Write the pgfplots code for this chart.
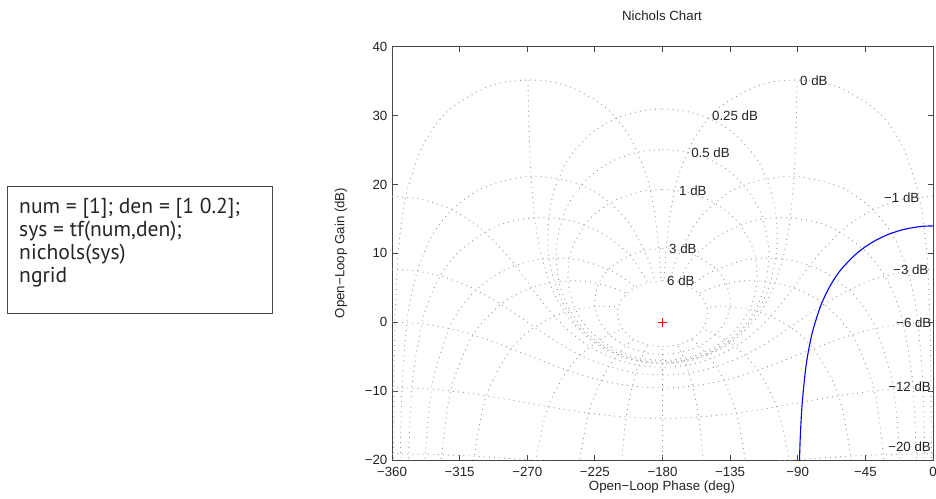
\documentclass[border=0pt]{standalone}
\usepackage{fontspec}
\setmainfont{Liberation Sans}
\newfontfamily\codefont{PT Sans}
\usepackage{pgfplots}
\pgfplotsset{compat=1.18}
\definecolor{gridgray}{RGB}{150,150,150}
\definecolor{axgray}{RGB}{70,70,70}
\definecolor{txt}{RGB}{35,35,35}
\pgfplotsset{ng/.style={no marks, smooth, line width=0.9pt, color=gridgray, dash pattern=on 0.9pt off 4.2pt}}
\begin{document}
\fontsize{13.3}{16}\selectfont
\begin{tikzpicture}[x=1pt,y=1pt]
\useasboundingbox (0,0) rectangle (936,498);
% code box
\draw[line width=1pt, draw=axgray] (7,311) rectangle (272,184);
\begin{scope}[every node/.style={anchor=base west, inner sep=0, text=black!85, font=\codefont\fontsize{21.6}{25}\selectfont}]
\node at (19,284) {num = [1]; den = [1 0.2];};
\node at (19,261) {sys = tf(num,den);};
\node at (19,238) {nichols(sys)};
\node at (19,215) {ngrid};
\end{scope}
\begin{axis}[
  at={(392pt,38pt)}, anchor=south west,
  scale only axis, width=541pt, height=413.3pt,
  xmin=-360, xmax=0, ymin=-20, ymax=40,
  xtick={-360,-315,-270,-225,-180,-135,-90,-45,0},
  xticklabels={−360,−315,−270,−225,−180,−135,−90,−45,0},
  ytick={-20,-10,0,10,20,30,40},
  yticklabels={−20,−10,0,10,20,30,40},
  tick align=inside, tick pos=both, major tick length=5.5pt,
  axis line style={draw=axgray, line width=0.9pt},
  tick style={draw=axgray, line width=0.8pt},
  ticklabel style={font=\fontsize{13.3}{16}\selectfont, text=txt},
  xticklabel style={yshift=-3pt},
  clip=true,
]
% ---- closed-loop gain contours (M) ----
% -20 dB
\addplot[ng] coordinates {(-360,-19.09) (-326.9,-19.23) (-294.8,-19.59) (-264.3,-20.04) (-235.3,-20.45) (-207.4,-20.73) (-180,-20.83) (-152.6,-20.73) (-124.7,-20.45) (-95.7,-20.04) (-65.2,-19.59) (-33.1,-19.23) (0,-19.09)};
% -12 dB
\addplot[ng] coordinates {(-360,-9.49) (-333.6,-9.72) (-308.7,-10.31) (-286.0,-11.09) (-265.5,-11.89) (-246.7,-12.61) (-229.1,-13.19) (-212.3,-13.61) (-196.0,-13.86) (-180,-13.95) (-164.0,-13.86) (-147.7,-13.61) (-130.9,-13.19) (-113.3,-12.61) (-94.5,-11.89) (-74.0,-11.09) (-51.3,-10.31) (-26.4,-9.72) (0,-9.49)};
% -6 dB
\addplot[ng] coordinates {(-360,0.04) (-340.25,-0.22) (-322.05,-0.90) (-306.1,-1.83) (-286.2,-3.34) (-269.9,-4.75) (-255.9,-5.96) (-243.4,-6.97) (-231.8,-7.79) (-220.9,-8.44) (-210.3,-8.92) (-200.1,-9.26) (-190.0,-9.46) (-180,-9.53) (-170.0,-9.46) (-159.9,-9.26) (-149.7,-8.92) (-139.1,-8.44) (-128.2,-7.79) (-116.6,-6.97) (-104.1,-5.96) (-90.1,-4.75) (-73.8,-3.34) (-53.9,-1.83) (-37.95,-0.90) (-19.75,-0.22) (0,0.04)};
% -3 dB
\addplot[ng] coordinates {(-360,7.69) (-343.2,7.42) (-327.9,6.71) (-314.9,5.74) (-304.1,4.68) (-287.5,2.61) (-269.9,0.01) (-256.5,-1.99) (-245.1,-3.55) (-234.7,-4.76) (-225.0,-5.71) (-215.6,-6.44) (-206.6,-6.98) (-197.6,-7.36) (-188.8,-7.58) (-180,-7.65) (-171.2,-7.58) (-162.4,-7.36) (-153.4,-6.98) (-144.4,-6.44) (-135.0,-5.71) (-125.3,-4.76) (-114.9,-3.55) (-103.5,-1.99) (-90.1,0.01) (-72.5,2.61) (-55.9,4.68) (-45.1,5.74) (-32.1,6.71) (-16.8,7.42) (0,7.69)};
% -1 dB
\addplot[ng] coordinates {(-360,18.28) (-342.1,17.90) (-326.7,16.92) (-314.6,15.66) (-305.4,14.36) (-298.3,13.10) (-286.1,10.39) (-278.0,8.23) (-267.1,5.01) (-255.4,1.73) (-245.7,-0.56) (-236.8,-2.25) (-228.3,-3.54) (-220.0,-4.53) (-211.9,-5.29) (-203.9,-5.85) (-195.9,-6.24) (-187.9,-6.46) (-180,-6.54) (-172.1,-6.46) (-164.1,-6.24) (-156.1,-5.85) (-148.1,-5.29) (-140.0,-4.53) (-131.7,-3.54) (-123.2,-2.25) (-114.3,-0.56) (-104.6,1.73) (-92.9,5.01) (-82.0,8.23) (-73.9,10.39) (-61.7,13.10) (-54.6,14.36) (-45.4,15.66) (-33.3,16.92) (-17.9,17.90) (0,18.28)};
% 0 dB
\addplot[ng] coordinates {(-269.5,35.16) (-269,29.14) (-268,23.12) (-267,19.60) (-265,15.17) (-263,12.26) (-260,9.19) (-255,5.72) (-250,3.30) (-245,1.46) (-240,0) (-230,-2.18) (-220,-3.71) (-210,-4.77) (-200,-5.48) (-190,-5.89) (-180,-6.02) (-170,-5.89) (-160,-5.48) (-150,-4.77) (-140,-3.71) (-130,-2.18) (-120,0) (-115,1.46) (-110,3.30) (-105,5.72) (-100,9.19) (-97,12.26) (-95,15.17) (-93,19.60) (-92,23.12) (-91,29.14) (-90.5,35.16)};
% 0.25 dB
\addplot[ng] coordinates {(-180,30.96) (-171.5,30.84) (-163.4,30.57) (-149.3,29.59) (-138.5,28.32) (-130.5,27.02) (-120.3,24.60) (-114.4,22.57) (-108.4,19.41) (-105.6,17.05) (-104.3,15.18) (-103.7,11.74) (-104.7,9.28) (-108.1,5.83) (-114.5,2.44) (-121.4,0.12) (-128.6,-1.59) (-135.8,-2.89) (-143.1,-3.89) (-150.5,-4.65) (-157.8,-5.21) (-165.2,-5.60) (-172.6,-5.82) (-180,-5.90) (-187.4,-5.82) (-194.8,-5.60) (-202.2,-5.21) (-209.5,-4.65) (-216.9,-3.89) (-224.2,-2.89) (-231.4,-1.59) (-238.6,0.12) (-245.5,2.44) (-251.9,5.83) (-255.3,9.28) (-256.3,11.74) (-255.7,15.18) (-254.4,17.05) (-251.6,19.41) (-245.6,22.57) (-239.7,24.60) (-229.5,27.02) (-221.5,28.32) (-210.7,29.59) (-196.6,30.57) (-188.5,30.84)} -- cycle;
% 0.5 dB
\addplot[ng] coordinates {(-180,25.05) (-171.6,24.95) (-163.6,24.68) (-149.8,23.70) (-139.2,22.44) (-131.5,21.12) (-121.8,18.71) (-116.4,16.68) (-113.2,14.98) (-109.8,11.71) (-109.3,9.32) (-111.1,5.92) (-116.5,2.55) (-122.9,0.24) (-129.6,-1.47) (-136.6,-2.77) (-143.8,-3.77) (-151.0,-4.53) (-158.2,-5.09) (-165.4,-5.47) (-172.7,-5.70) (-180,-5.77) (-187.3,-5.70) (-194.6,-5.47) (-201.8,-5.09) (-209.0,-4.53) (-216.2,-3.77) (-223.4,-2.77) (-230.4,-1.47) (-237.1,0.24) (-243.5,2.55) (-248.9,5.92) (-250.7,9.32) (-250.2,11.71) (-246.8,14.98) (-243.6,16.68) (-238.2,18.71) (-228.5,21.12) (-220.8,22.44) (-210.2,23.70) (-196.4,24.68) (-188.4,24.95)} -- cycle;
% 1 dB
\addplot[ng] coordinates {(-180,19.27) (-171.9,19.17) (-164.1,18.89) (-150.7,17.91) (-140.65,16.65) (-133.4,15.35) (-128.3,14.10) (-121.1,11.39) (-118.1,9.23) (-117.1,6.01) (-120.4,2.73) (-125.7,0.44) (-131.8,-1.25) (-138.3,-2.54) (-145.0,-3.53) (-151.9,-4.29) (-158.9,-4.85) (-165.9,-5.24) (-172.9,-5.46) (-180,-5.54) (-187.1,-5.46) (-194.1,-5.24) (-201.1,-4.85) (-208.1,-4.29) (-215.0,-3.53) (-221.7,-2.54) (-228.2,-1.25) (-234.3,0.44) (-239.6,2.73) (-242.9,6.01) (-241.9,9.23) (-238.9,11.39) (-231.7,14.10) (-226.6,15.35) (-219.35,16.65) (-209.3,17.91) (-195.9,18.89) (-188.1,19.17)} -- cycle;
% 3 dB
\addplot[ng] coordinates {(-180,10.69) (-174.0,10.62) (-168.2,10.43) (-157.9,9.71) (-144.1,7.68) (-137.6,5.61) (-134.9,3.01) (-136.5,1.01) (-140.1,-0.55) (-144.7,-1.76) (-150.0,-2.71) (-155.6,-3.44) (-161.6,-3.98) (-167.6,-4.36) (-173.8,-4.58) (-180,-4.65) (-186.2,-4.58) (-192.4,-4.36) (-198.4,-3.98) (-204.4,-3.44) (-210.0,-2.71) (-215.3,-1.76) (-219.9,-0.55) (-223.5,1.01) (-225.1,3.01) (-222.4,5.61) (-215.9,7.68) (-202.1,9.71) (-191.8,10.43) (-186.0,10.62)} -- cycle;
% 6 dB
\addplot[ng] coordinates {(-180,6.04) (-170.3,5.78) (-162.1,5.10) (-156.1,4.17) (-152.4,3.16) (-150.5,2.17) (-149.9,1.25) (-151.6,-0.32) (-155.6,-1.54) (-160.9,-2.44) (-166.9,-3.05) (-173.4,-3.41) (-180,-3.53) (-186.6,-3.41) (-193.1,-3.05) (-199.1,-2.44) (-204.4,-1.54) (-208.4,-0.32) (-210.1,1.25) (-209.5,2.17) (-207.6,3.16) (-203.9,4.17) (-197.9,5.10) (-189.7,5.78)} -- cycle;
% ---- closed-loop phase contours (N) ----
% -1 deg
\addplot[ng] coordinates {(-1.09,-21.2) (-1.11,-19.08) (-1.25,-12.04) (-1.43,-7.36) (-2.0,0.0) (-3.33,7.35) (-4.99,12.0) (-6.64,15.02) (-9.91,18.97) (-19.3,25.1) (-30.3,28.98) (-41.3,31.41) (-60.6,33.9) (-74.5,34.85) (-90.5,35.16) (-106.5,34.91) (-120.2,34.0) (-139.1,31.68) (-149.9,29.43) (-160.8,25.9) (-170.1,20.7) (-175.0,15.52) (-178.0,9.53) (-179.0,6.02)};
\addplot[ng] coordinates {(-358.91,-21.2) (-358.89,-19.08) (-358.75,-12.04) (-358.57,-7.36) (-358.0,0.0) (-356.67,7.35) (-355.01,12.0) (-353.36,15.02) (-350.09,18.97) (-340.7,25.1) (-329.7,28.98) (-318.7,31.41) (-299.4,33.9) (-285.5,34.85) (-269.5,35.16) (-253.5,34.91) (-239.8,34.0) (-220.9,31.68) (-210.1,29.43) (-199.2,25.9) (-189.9,20.7) (-185.0,15.52) (-182.0,9.53) (-181.0,6.02)};
% -5 deg
\addplot[ng] coordinates {(-5.43,-21.22) (-5.55,-19.09) (-6.25,-12.05) (-7.14,-7.38) (-9.96,-0.07) (-12.4,3.40) (-16.4,7.11) (-23.95,11.43) (-30.8,13.97) (-42.2,16.82) (-62.1,19.67) (-92.5,21.19) (-121.7,20.22) (-140.0,18.19) (-156.8,14.67) (-170.2,9.35) (-175.0,5.96)};
\addplot[ng] coordinates {(-354.57,-21.22) (-354.45,-19.09) (-353.75,-12.05) (-352.86,-7.38) (-350.04,-0.07) (-347.6,3.40) (-343.6,7.11) (-336.05,11.43) (-329.2,13.97) (-317.8,16.82) (-297.9,19.67) (-267.5,21.19) (-238.3,20.22) (-220.0,18.19) (-203.2,14.67) (-189.8,9.35) (-185.0,5.96)};
% -10 deg
\addplot[ng] coordinates {(-10.86,-21.23) (-11.1,-19.10) (-12.5,-12.08) (-14.2,-7.44) (-19.7,-0.26) (-24.3,3.05) (-31.4,6.44) (-43.2,9.98) (-64.0,13.36) (-78.7,14.59) (-95,15.17) (-110.6,15.06) (-123.6,14.45) (-141.1,12.75) (-154.6,10.47) (-161.4,8.82) (-170.3,5.76)};
\addplot[ng] coordinates {(-349.14,-21.23) (-348.9,-19.10) (-347.5,-12.08) (-345.8,-7.44) (-340.3,-0.26) (-335.7,3.05) (-328.6,6.44) (-316.8,9.98) (-296.0,13.36) (-281.3,14.59) (-265,15.17) (-249.4,15.06) (-236.4,14.45) (-218.9,12.75) (-205.4,10.47) (-198.6,8.82) (-189.7,5.76)};
% -20 deg
\addplot[ng] coordinates {(-21.7,-21.26) (-22.2,-19.15) (-24.8,-12.20) (-28.1,-7.67) (-37.9,-0.94) (-45.2,1.90) (-55.0,4.49) (-67.8,6.71) (-75.3,7.62) (-86.7,8.58) (-100,9.19) (-112.3,9.31) (-127.3,8.92) (-148.6,7.18) (-162.1,5.08)};
\addplot[ng] coordinates {(-338.3,-21.26) (-337.8,-19.15) (-335.2,-12.20) (-331.9,-7.67) (-322.1,-0.94) (-314.8,1.90) (-305.0,4.49) (-292.2,6.71) (-284.7,7.62) (-273.3,8.58) (-260,9.19) (-247.7,9.31) (-232.7,8.92) (-211.4,7.18) (-197.9,5.08)};
% -30 deg
\addplot[ng] coordinates {(-32.5,-21.32) (-33.1,-19.23) (-36.9,-12.39) (-41.5,-8.02) (-53.8,-1.86) (-71.6,2.47) (-88.2,4.60) (-105,5.72) (-119.6,6.02) (-131.0,5.86) (-145.7,5.11) (-156.2,4.16)};
\addplot[ng] coordinates {(-327.5,-21.32) (-326.9,-19.23) (-323.1,-12.39) (-318.5,-8.02) (-306.2,-1.86) (-288.4,2.47) (-271.8,4.60) (-255,5.72) (-240.4,6.02) (-229.0,5.86) (-214.3,5.11) (-203.8,4.16)};
% -50 deg
\addplot[ng] coordinates {(-53.7,-21.50) (-54.7,-19.45) (-60.0,-12.92) (-65.9,-8.94) (-79.4,-3.85) (-94.3,-0.81) (-115,1.46) (-134.7,2.28) (-144.1,2.29) (-150.6,2.17)};
\addplot[ng] coordinates {(-306.3,-21.50) (-305.3,-19.45) (-300.0,-12.92) (-294.1,-8.94) (-280.6,-3.85) (-265.7,-0.81) (-245,1.46) (-225.3,2.28) (-215.9,2.29) (-209.4,2.17)};
% -90 deg
\addplot[ng] coordinates {(-95.1,-20.95) (-95.7,-20.04) (-101.3,-14.15) (-106.7,-10.83) (-116.6,-6.99) (-125.0,-4.83) (-135,-3.01) (-146.3,-1.60) (-153.4,-0.97)};
\addplot[ng] coordinates {(-264.9,-20.95) (-264.3,-20.04) (-258.7,-14.15) (-253.3,-10.83) (-243.4,-6.99) (-235.0,-4.83) (-225,-3.01) (-213.7,-1.60) (-206.6,-0.97)};
% -120 deg
\addplot[ng] coordinates {(-124.3,-21.32) (-124.9,-20.05) (-129.0,-14.91) (-132.7,-11.89) (-139.1,-8.45) (-144.2,-6.50) (-150,-4.77) (-156.6,-3.25) (-160.9,-2.43)};
\addplot[ng] coordinates {(-235.7,-21.32) (-235.1,-20.05) (-231.0,-14.91) (-227.3,-11.89) (-220.9,-8.45) (-215.8,-6.50) (-210,-4.77) (-203.4,-3.25) (-199.1,-2.43)};
% -150 deg
\addplot[ng] coordinates {(-152.4,-21.57) (-152.9,-19.97) (-154.9,-15.40) (-156.8,-12.53) (-159.9,-9.28) (-162.3,-7.42) (-165,-5.72) (-168.1,-4.15) (-170.1,-3.26)};
\addplot[ng] coordinates {(-207.6,-21.57) (-207.1,-19.97) (-205.1,-15.40) (-203.2,-12.53) (-200.1,-9.28) (-197.7,-7.42) (-195,-5.72) (-191.9,-4.15) (-189.9,-3.26)};
% -180 deg
\addplot[ng] coordinates {(-180,-21) (-180,-3.52)};
% ---- open-loop response 1/(s+0.2) ----
\addplot[blue, line width=1.1pt, smooth, no marks] coordinates {(0,13.98) (-5,13.95) (-10,13.85) (-20,13.44) (-30,12.73) (-40,11.66) (-50,10.14) (-60,7.96) (-65,6.50) (-70,4.66) (-75,2.24) (-80,-1.23) (-83,-4.30) (-85,-7.21) (-87,-11.64) (-88,-15.16) (-88.5,-17.66) (-89,-21.18)};
% critical point
\addplot[red, only marks, mark=+, mark size=4.5pt, line width=0.8pt] coordinates {(-180,0)};
% labels
\begin{scope}[every node/.style={anchor=west, inner sep=0, text=txt, font=\fontsize{13.3}{16}\selectfont}]
\node at (axis cs:-88.5,35.0) {0 dB};
\node at (axis cs:-147.1,29.98) {0.25 dB};
\node at (axis cs:-161.0,24.56) {0.5 dB};
\node at (axis cs:-169.0,19.04) {1 dB};
\node at (axis cs:-175.7,10.6) {3 dB};
\node at (axis cs:-177.0,5.98) {6 dB};
\node at (axis cs:-32.6,18.03) {−1 dB};
\node at (axis cs:-26.6,7.58) {−3 dB};
\node at (axis cs:-24.6,-0.1) {−6 dB};
\node at (axis cs:-29.9,-9.4) {−12 dB};
\node at (axis cs:-29.9,-18.1) {−20 dB};
\end{scope}
\end{axis}
\node[text=txt, font=\fontsize{13.3}{16}\selectfont] at (662,482) {Nichols Chart};
\node[text=txt, font=\fontsize{13.3}{16}\selectfont] at (662,11) {Open−Loop Phase (deg)};
\node[text=txt, font=\fontsize{13.3}{16}\selectfont, rotate=90] at (341,245) {Open−Loop Gain (dB)};
\end{tikzpicture}
\end{document}
